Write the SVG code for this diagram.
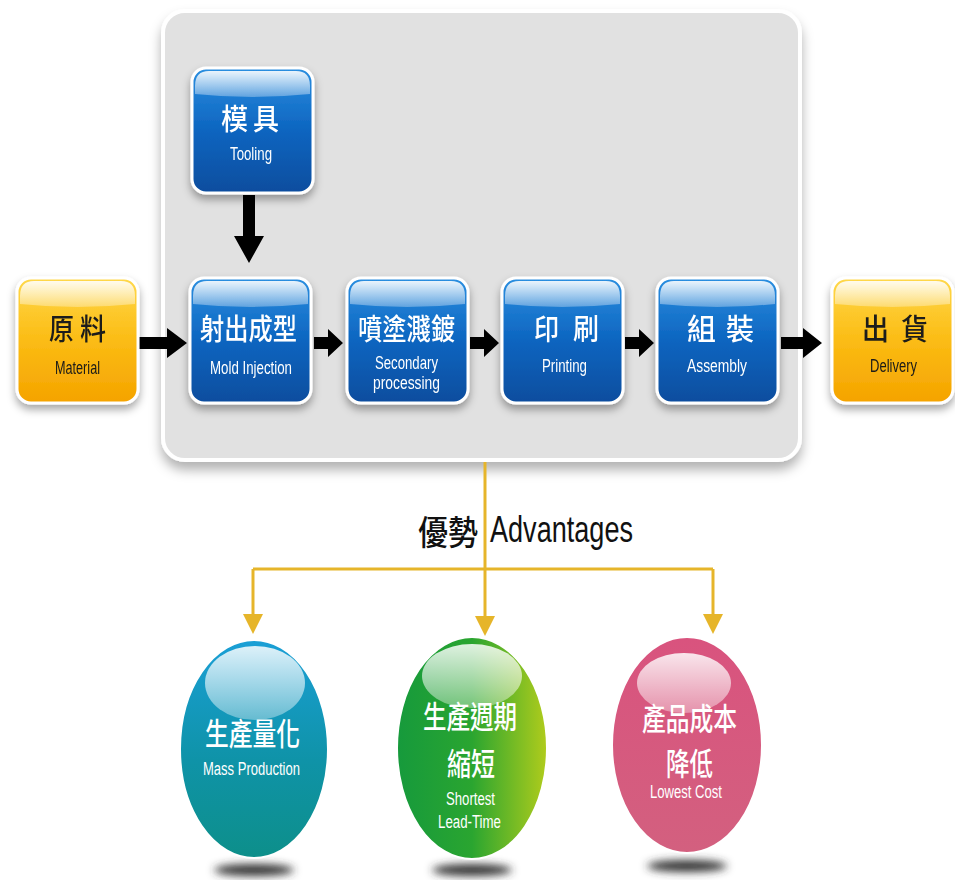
<svg xmlns="http://www.w3.org/2000/svg" width="955" height="880" viewBox="0 0 955 880">
<style>
.zh{font-family:"Noto Sans CJK TC","Noto Sans CJK SC",sans-serif;font-weight:500;fill:#fff;font-size:29px}
.en{font-family:"Liberation Sans",Arial,sans-serif;fill:#fff;font-size:18px}
.dark{fill:#1a1a1a}
.ylw{stroke:#e6b52a;stroke-width:3;fill:none}
.big{font-size:36px;fill:#111}
</style>
<defs>
<linearGradient id="gBlue" x1="0" y1="0" x2="0" y2="1">
<stop offset="0" stop-color="#2a8ee0"/><stop offset="0.5" stop-color="#0d65c0"/><stop offset="1" stop-color="#0a4d9e"/>
</linearGradient>
<linearGradient id="gOrange" x1="0" y1="0" x2="0" y2="1">
<stop offset="0" stop-color="#ffd84a"/><stop offset="0.5" stop-color="#fbbc14"/><stop offset="1" stop-color="#f5a300"/>
</linearGradient>
<linearGradient id="gGloss" x1="0" y1="0" x2="0" y2="1">
<stop offset="0" stop-color="#fff" stop-opacity="0.9"/><stop offset="1" stop-color="#fff" stop-opacity="0.3"/>
</linearGradient>
<linearGradient id="gTeal" x1="0" y1="0" x2="0" y2="1">
<stop offset="0" stop-color="#1a9fd6"/><stop offset="0.55" stop-color="#0f93a8"/><stop offset="1" stop-color="#0d8f8a"/>
</linearGradient>
<linearGradient id="gGreen" x1="0" y1="0" x2="1" y2="0">
<stop offset="0" stop-color="#169a3c"/><stop offset="0.5" stop-color="#2aa530"/><stop offset="1" stop-color="#b0cc1c"/>
</linearGradient>
<linearGradient id="gPink" x1="0" y1="0" x2="0" y2="1">
<stop offset="0" stop-color="#d9537e"/><stop offset="1" stop-color="#d3607f"/>
</linearGradient>
<linearGradient id="gBall" x1="0" y1="0" x2="0" y2="1">
<stop offset="0" stop-color="#fff" stop-opacity="0.85"/><stop offset="1" stop-color="#fff" stop-opacity="0.35"/>
</linearGradient>
<filter id="shadow" x="-20%" y="-20%" width="140%" height="150%">
<feDropShadow dx="0" dy="5" stdDeviation="4" flood-color="#000" flood-opacity="0.35"/>
</filter>
<filter id="pshadow" x="-10%" y="-10%" width="120%" height="130%">
<feDropShadow dx="0" dy="8" stdDeviation="6" flood-color="#000" flood-opacity="0.3"/>
</filter>
<filter id="blur" x="-50%" y="-200%" width="200%" height="500%">
<feGaussianBlur stdDeviation="4"/>
</filter>
<path id="gloss" d="M3,18 Q3,3 17,3 L104,3 Q118,3 118,18 L118,26 Q60,32 3,26 Z" fill="url(#gGloss)"/>
<rect id="box" x="0" y="0" width="121" height="125" rx="14" stroke="#fff" stroke-width="3"/>
</defs>
<rect width="955" height="880" fill="#fff"/>
<g id="panel">
<rect x="163" y="11" width="637" height="449" rx="22" fill="#e1e1e1" stroke="#fff" stroke-width="4" filter="url(#pshadow)"/>
</g>
<g id="connectors">
<path d="M139,337 H167 V328 L187,343 L167,358 V349 H139 Z" fill="#000"/>
<path d="M314,337 H328 V329 L343,343 L328,357 V349 H314 Z" fill="#000"/>
<path d="M470,337 H484 V329 L499,343 L484,357 V349 H470 Z" fill="#000"/>
<path d="M625,337 H639 V329 L654,343 L639,357 V349 H625 Z" fill="#000"/>
<path d="M781,337 H803 V328 L822,343 L803,358 V349 H781 Z" fill="#000"/>
<path d="M243,195 H255 V236 H264 L249,263 L234,236 H243 Z" fill="#000"/>
<path class="ylw" d="M485,462 V618"/>
<path class="ylw" d="M253,569 H713"/>
<path class="ylw" d="M253,569 V616"/>
<path class="ylw" d="M713,569 V616"/>
<path d="M243,614 H263 L253,634 Z M475,616 H495 L485,636 Z M703,614 H723 L713,634 Z" fill="#e6b52a"/>
</g>
<g id="tooling" filter="url(#shadow)">
<use href="#box" x="192" y="68" fill="url(#gBlue)"/>
<use href="#gloss" x="192" y="68"/>
<text class="zh" x="221" y="130" textLength="27" lengthAdjust="spacingAndGlyphs">模</text>
<text class="zh" x="253" y="130" textLength="26" lengthAdjust="spacingAndGlyphs">具</text>
<text class="en" x="230" y="160" textLength="42" lengthAdjust="spacingAndGlyphs">Tooling</text>
</g>
<g id="material" filter="url(#shadow)">
<use href="#box" x="17" y="278" fill="url(#gOrange)"/>
<use href="#gloss" x="17" y="278"/>
<text class="zh dark" x="49" y="340" textLength="25" lengthAdjust="spacingAndGlyphs">原</text>
<text class="zh dark" x="80" y="340" textLength="26" lengthAdjust="spacingAndGlyphs">料</text>
<text class="en dark" x="55" y="374" textLength="45" lengthAdjust="spacingAndGlyphs">Material</text>
</g>
<g id="mold" filter="url(#shadow)">
<use href="#box" x="190" y="278" fill="url(#gBlue)"/>
<use href="#gloss" x="190" y="278"/>
<text class="zh" x="200" y="340" textLength="97" lengthAdjust="spacingAndGlyphs">射出成型</text>
<text class="en" x="210" y="374" textLength="82" lengthAdjust="spacingAndGlyphs">Mold Injection</text>
</g>
<g id="secondary" filter="url(#shadow)">
<use href="#box" x="347" y="278" fill="url(#gBlue)"/>
<use href="#gloss" x="347" y="278"/>
<text class="zh" x="358" y="340" textLength="97" lengthAdjust="spacingAndGlyphs">噴塗濺鍍</text>
<text class="en" x="375" y="369" textLength="63" lengthAdjust="spacingAndGlyphs">Secondary</text>
<text class="en" x="373" y="389" textLength="67" lengthAdjust="spacingAndGlyphs">processing</text>
</g>
<g id="printing" filter="url(#shadow)">
<use href="#box" x="502" y="278" fill="url(#gBlue)"/>
<use href="#gloss" x="502" y="278"/>
<text class="zh" x="534" y="340" textLength="25" lengthAdjust="spacingAndGlyphs">印</text>
<text class="zh" x="573" y="340" textLength="26" lengthAdjust="spacingAndGlyphs">刷</text>
<text class="en" x="542" y="372" textLength="45" lengthAdjust="spacingAndGlyphs">Printing</text>
</g>
<g id="assembly" filter="url(#shadow)">
<use href="#box" x="657" y="278" fill="url(#gBlue)"/>
<use href="#gloss" x="657" y="278"/>
<text class="zh" x="687" y="340" textLength="29" lengthAdjust="spacingAndGlyphs">組</text>
<text class="zh" x="726" y="340" textLength="28" lengthAdjust="spacingAndGlyphs">裝</text>
<text class="en" x="687" y="372" textLength="60" lengthAdjust="spacingAndGlyphs">Assembly</text>
</g>
<g id="delivery" filter="url(#shadow)">
<use href="#box" x="832" y="278" fill="url(#gOrange)"/>
<use href="#gloss" x="832" y="278"/>
<text class="zh dark" x="862" y="340" textLength="27" lengthAdjust="spacingAndGlyphs">出</text>
<text class="zh dark" x="901" y="340" textLength="27" lengthAdjust="spacingAndGlyphs">貨</text>
<text class="en dark" x="870" y="372" textLength="47" lengthAdjust="spacingAndGlyphs">Delivery</text>
</g>
<g id="advantages-label">
<text class="zh big" x="418" y="545" textLength="60" lengthAdjust="spacingAndGlyphs" style="font-size:34px">優勢</text>
<text class="en big" x="490" y="542" textLength="143" lengthAdjust="spacingAndGlyphs">Advantages</text>
</g>
<g id="mass">
<ellipse cx="254" cy="870" rx="40" ry="6" fill="#333" filter="url(#blur)"/>
<ellipse cx="254" cy="749" rx="74" ry="109" fill="url(#gTeal)" stroke="#fff" stroke-width="2"/>
<ellipse cx="255" cy="683" rx="50" ry="37" fill="url(#gBall)"/>
<text class="zh" x="205" y="745" textLength="95" lengthAdjust="spacingAndGlyphs" style="font-size:31px">生產量化</text>
<text class="en" x="203" y="775" textLength="97" lengthAdjust="spacingAndGlyphs">Mass Production</text>
</g>
<g id="leadtime">
<ellipse cx="472" cy="870" rx="40" ry="6" fill="#333" filter="url(#blur)"/>
<ellipse cx="472" cy="748" rx="75" ry="111" fill="url(#gGreen)" stroke="#fff" stroke-width="2"/>
<ellipse cx="472" cy="676" rx="50" ry="32" fill="url(#gBall)"/>
<text class="zh" x="423" y="728" textLength="94" lengthAdjust="spacingAndGlyphs" style="font-size:31px">生產週期</text>
<text class="zh" x="447" y="775" textLength="48" lengthAdjust="spacingAndGlyphs" style="font-size:31px">縮短</text>
<text class="en" x="446" y="805" textLength="49" lengthAdjust="spacingAndGlyphs">Shortest</text>
<text class="en" x="438" y="828" textLength="63" lengthAdjust="spacingAndGlyphs">Lead-Time</text>
</g>
<g id="lowcost">
<ellipse cx="687" cy="866" rx="40" ry="6" fill="#333" filter="url(#blur)"/>
<ellipse cx="687" cy="745" rx="75" ry="108" fill="url(#gPink)" stroke="#fff" stroke-width="2"/>
<ellipse cx="684" cy="683" rx="47" ry="30" fill="url(#gBall)"/>
<text class="zh" x="642" y="730" textLength="95" lengthAdjust="spacingAndGlyphs" style="font-size:31px">產品成本</text>
<text class="zh" x="666" y="775" textLength="47" lengthAdjust="spacingAndGlyphs" style="font-size:31px">降低</text>
<text class="en" x="650" y="798" textLength="72" lengthAdjust="spacingAndGlyphs">Lowest Cost</text>
</g>
</svg>
